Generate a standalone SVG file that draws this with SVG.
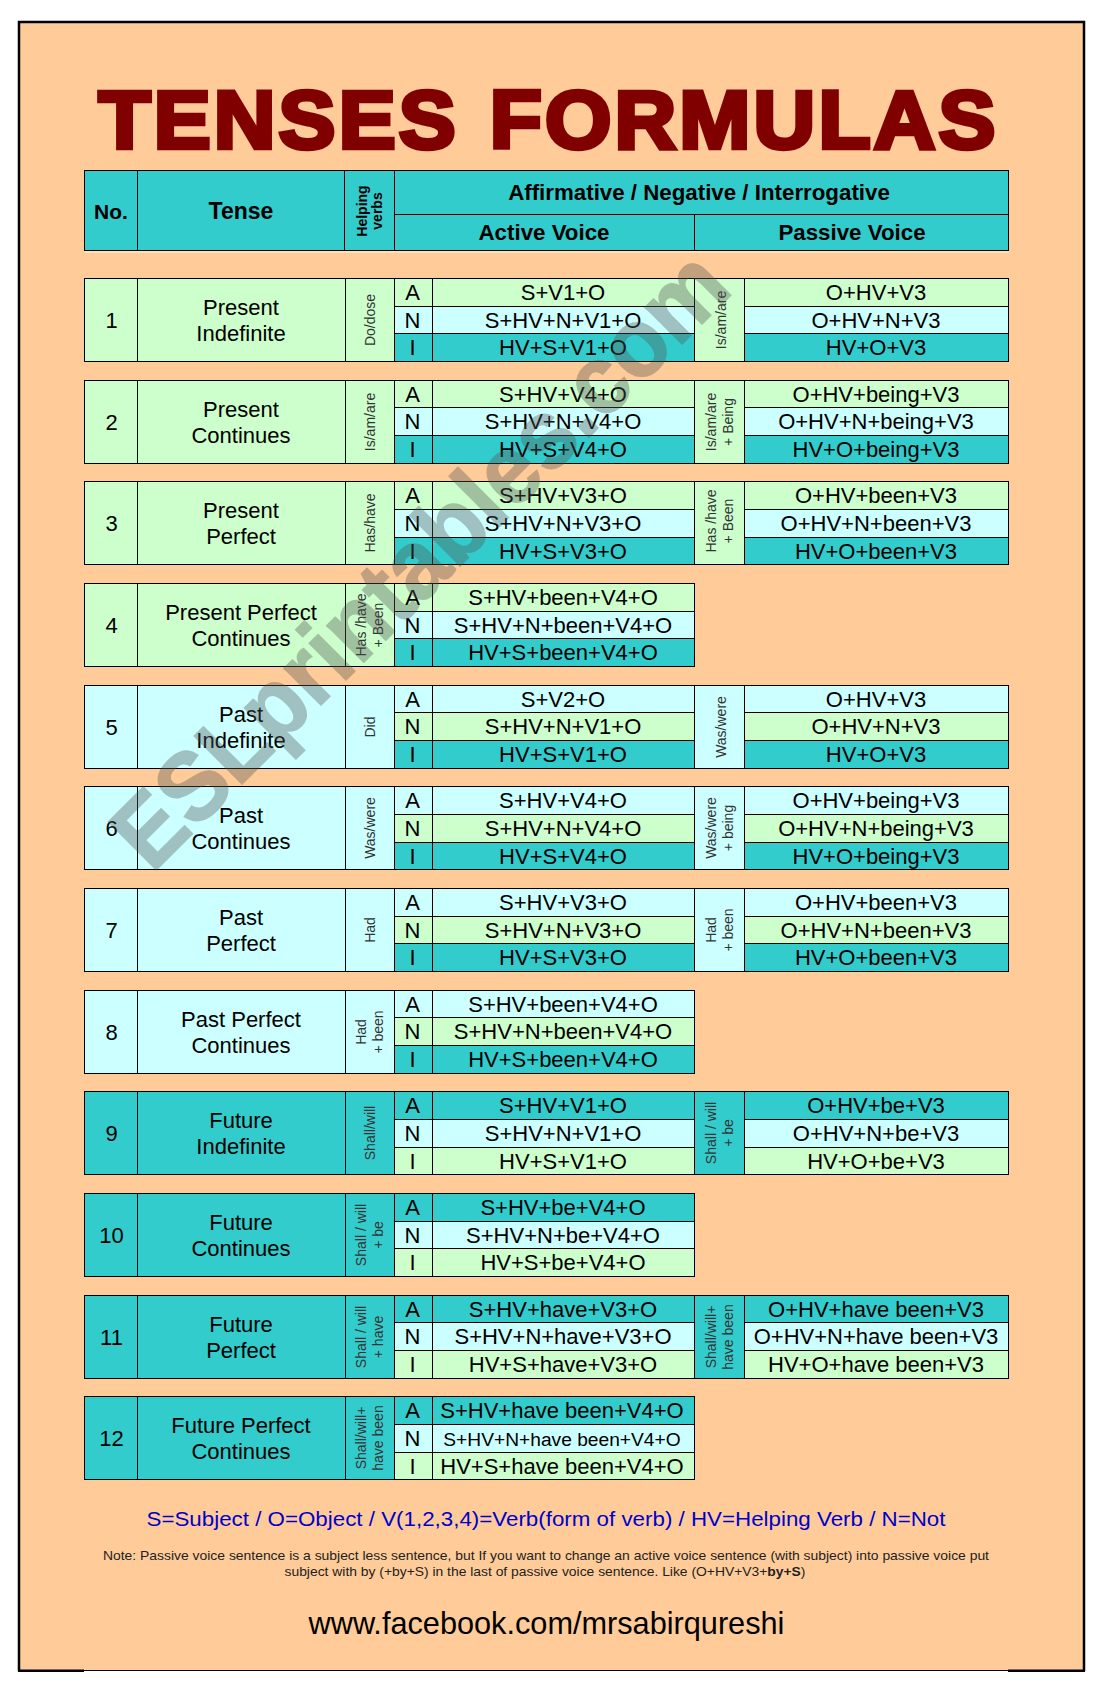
<svg xmlns="http://www.w3.org/2000/svg" width="1098" height="1700" viewBox="0 0 1098 1700">
<defs><style>
text{font-family:"Liberation Sans",Arial,sans-serif;fill:#000;text-anchor:middle}
rect.b{stroke:#000;stroke-width:1}
.g{fill:#CCFFCC}.l{fill:#CCFFFF}.t{fill:#33CCCC}
.f{font-size:22px}.n{font-size:22px}.h{font-size:14px;fill:#333}.hb{font-size:14px;font-weight:bold}.th{font-size:22.300px;font-weight:bold}
.wm{font-size:91px;font-weight:bold;fill:#555;stroke:#555;stroke-width:1.500;opacity:.36;text-anchor:start}
</style></defs>
<rect x="0" y="0" width="1098" height="1700" fill="#fff"/>
<g id="frame">
<rect x="19" y="22" width="1065" height="1648.500" fill="#FFCC99"/>
<path d="M19 1671V22H1084V1671" fill="none" stroke="#000" stroke-width="2.500"/>
<path d="M84 1670.500H1008" stroke="#000" stroke-width="1.200"/>
<path d="M18 1670.700H84M1008 1670.700H1085" stroke="#000" stroke-width="2.500"/>
</g>
<text id="title" x="548.500" y="148" font-size="82" font-weight="bold" letter-spacing="3" word-spacing="4" style="fill:#800000;stroke:#800000;stroke-width:4.500" textLength="900" lengthAdjust="spacingAndGlyphs">TENSES FORMULAS</text>
<g id="header">
<rect class="t b" x="84.500" y="170.500" width="53" height="80"/><rect class="t b" x="137.500" y="170.500" width="207" height="80"/><rect class="t b" x="344.500" y="170.500" width="50" height="80"/><rect class="t b" x="394.500" y="170.500" width="614" height="44"/><rect class="t b" x="394.500" y="214.500" width="300" height="36"/><rect class="t b" x="694.500" y="214.500" width="314" height="36"/>
<path d="M85 252H1009" stroke="#FFE6CC" stroke-width="1.500"/>
<text class="th" x="111" y="218.500" style="font-size:21px">No.</text><text class="th" x="241" y="218.500" style="font-size:23px">Tense</text>
<text class="hb" transform="translate(366.500 211) rotate(-90)">Helping</text><text class="hb" transform="translate(382 211) rotate(-90)">verbs</text>
<text class="th" x="699" y="200">Affirmative / Negative / Interrogative</text><text class="th" x="544" y="240">Active Voice</text><text class="th" x="852" y="240">Passive Voice</text>
</g>

<g id="row1" transform="translate(0 278.500)">
<rect class="g b" x="84.500" width="53" height="83"/><rect class="g b" x="137.500" width="208" height="83"/><rect class="g b" x="345.500" width="49" height="83"/>
<rect class="g b" x="394.500" width="38" height="28"/><rect class="g b" x="432.500" width="262" height="28"/><rect class="l b" x="394.500" y="28" width="38" height="27"/><rect class="l b" x="432.500" y="28" width="262" height="27"/><rect class="t b" x="394.500" y="55" width="38" height="28"/><rect class="t b" x="432.500" y="55" width="262" height="28"/>
<rect class="g b" x="694.500" width="50" height="83"/><rect class="g b" x="744.500" width="264" height="28"/><rect class="l b" x="744.500" y="28" width="264" height="27"/><rect class="t b" x="744.500" y="55" width="264" height="28"/>
<text class="n" x="111.500" y="49.500">1</text><text class="n" x="241" y="36.500">Present</text><text class="n" x="241" y="62.500">Indefinite</text>
<text class="h" transform="translate(374.500 41.500) rotate(-90)">Do/dose</text>
<text class="f" x="412.500" y="21.500">A</text><text class="f" x="563" y="21.500">S+V1+O</text><text class="f" x="412.500" y="49.500">N</text><text class="f" x="563" y="49.500">S+HV+N+V1+O</text><text class="f" x="412.500" y="76.300">I</text><text class="f" x="563" y="76.300">HV+S+V1+O</text>
<text class="h" transform="translate(726 41.500) rotate(-90)">Is/am/are</text>
<text class="f" x="876" y="21.500">O+HV+V3</text><text class="f" x="876" y="49.500">O+HV+N+V3</text><text class="f" x="876" y="76.300">HV+O+V3</text>
</g>

<g id="row2" transform="translate(0 380.500)">
<rect class="g b" x="84.500" width="53" height="83"/><rect class="g b" x="137.500" width="208" height="83"/><rect class="g b" x="345.500" width="49" height="83"/>
<rect class="g b" x="394.500" width="38" height="27"/><rect class="g b" x="432.500" width="262" height="27"/><rect class="l b" x="394.500" y="27" width="38" height="28"/><rect class="l b" x="432.500" y="27" width="262" height="28"/><rect class="t b" x="394.500" y="55" width="38" height="28"/><rect class="t b" x="432.500" y="55" width="262" height="28"/>
<rect class="g b" x="694.500" width="50" height="83"/><rect class="g b" x="744.500" width="264" height="27"/><rect class="l b" x="744.500" y="27" width="264" height="28"/><rect class="t b" x="744.500" y="55" width="264" height="28"/>
<text class="n" x="111.500" y="49.500">2</text><text class="n" x="241" y="36.500">Present</text><text class="n" x="241" y="62.500">Continues</text>
<text class="h" transform="translate(374.500 41.500) rotate(-90)">Is/am/are</text>
<text class="f" x="412.500" y="21.500">A</text><text class="f" x="563" y="21.500">S+HV+V4+O</text><text class="f" x="412.500" y="48.500">N</text><text class="f" x="563" y="48.500">S+HV+N+V4+O</text><text class="f" x="412.500" y="76.300">I</text><text class="f" x="563" y="76.300">HV+S+V4+O</text>
<text class="h" transform="translate(715.500 41.500) rotate(-90)">Is/am/are</text><text class="h" transform="translate(733 41.500) rotate(-90)">+ Being</text>
<text class="f" x="876" y="21.500">O+HV+being+V3</text><text class="f" x="876" y="48.500">O+HV+N+being+V3</text><text class="f" x="876" y="76.300">HV+O+being+V3</text>
</g>

<g id="row3" transform="translate(0 481.500)">
<rect class="g b" x="84.500" width="53" height="83"/><rect class="g b" x="137.500" width="208" height="83"/><rect class="g b" x="345.500" width="49" height="83"/>
<rect class="g b" x="394.500" width="38" height="28"/><rect class="g b" x="432.500" width="262" height="28"/><rect class="l b" x="394.500" y="28" width="38" height="28"/><rect class="l b" x="432.500" y="28" width="262" height="28"/><rect class="t b" x="394.500" y="56" width="38" height="27"/><rect class="t b" x="432.500" y="56" width="262" height="27"/>
<rect class="g b" x="694.500" width="50" height="83"/><rect class="g b" x="744.500" width="264" height="28"/><rect class="l b" x="744.500" y="28" width="264" height="28"/><rect class="t b" x="744.500" y="56" width="264" height="27"/>
<text class="n" x="111.500" y="49.500">3</text><text class="n" x="241" y="36.500">Present</text><text class="n" x="241" y="62.500">Perfect</text>
<text class="h" transform="translate(374.500 41.500) rotate(-90)">Has/have</text>
<text class="f" x="412.500" y="21.500">A</text><text class="f" x="563" y="21.500">S+HV+V3+O</text><text class="f" x="412.500" y="49.500">N</text><text class="f" x="563" y="49.500">S+HV+N+V3+O</text><text class="f" x="412.500" y="77.500">I</text><text class="f" x="563" y="77.500">HV+S+V3+O</text>
<text class="h" transform="translate(715.500 39.500) rotate(-90)">Has /have</text><text class="h" transform="translate(733 39.500) rotate(-90)">+ Been</text>
<text class="f" x="876" y="21.500">O+HV+been+V3</text><text class="f" x="876" y="49.500">O+HV+N+been+V3</text><text class="f" x="876" y="77.500">HV+O+been+V3</text>
</g>

<g id="row4" transform="translate(0 583.500)">
<rect class="g b" x="84.500" width="53" height="83"/><rect class="g b" x="137.500" width="208" height="83"/><rect class="g b" x="345.500" width="49" height="83"/>
<rect class="g b" x="394.500" width="38" height="28"/><rect class="g b" x="432.500" width="262" height="28"/><rect class="l b" x="394.500" y="28" width="38" height="27"/><rect class="l b" x="432.500" y="28" width="262" height="27"/><rect class="t b" x="394.500" y="55" width="38" height="28"/><rect class="t b" x="432.500" y="55" width="262" height="28"/>
<text class="n" x="111.500" y="49.500">4</text><text class="n" x="241" y="36.500">Present Perfect</text><text class="n" x="241" y="62.500">Continues</text>
<text class="h" transform="translate(366 41.500) rotate(-90)">Has /have</text><text class="h" transform="translate(383 41.500) rotate(-90)">+ Been</text>
<text class="f" x="412.500" y="21.500">A</text><text class="f" x="563" y="21.500">S+HV+been+V4+O</text><text class="f" x="412.500" y="49.500">N</text><text class="f" x="563" y="49.500">S+HV+N+been+V4+O</text><text class="f" x="412.500" y="76.300">I</text><text class="f" x="563" y="76.300">HV+S+been+V4+O</text>
</g>

<g id="row5" transform="translate(0 685.500)">
<rect class="l b" x="84.500" width="53" height="83"/><rect class="l b" x="137.500" width="208" height="83"/><rect class="l b" x="345.500" width="49" height="83"/>
<rect class="l b" x="394.500" width="38" height="27"/><rect class="l b" x="432.500" width="262" height="27"/><rect class="g b" x="394.500" y="27" width="38" height="28"/><rect class="g b" x="432.500" y="27" width="262" height="28"/><rect class="t b" x="394.500" y="55" width="38" height="28"/><rect class="t b" x="432.500" y="55" width="262" height="28"/>
<rect class="l b" x="694.500" width="50" height="83"/><rect class="l b" x="744.500" width="264" height="27"/><rect class="g b" x="744.500" y="27" width="264" height="28"/><rect class="t b" x="744.500" y="55" width="264" height="28"/>
<text class="n" x="111.500" y="49.500">5</text><text class="n" x="241" y="36.500">Past</text><text class="n" x="241" y="62">Indefinite</text>
<text class="h" transform="translate(374.500 41.500) rotate(-90)">Did</text>
<text class="f" x="412.500" y="21.500">A</text><text class="f" x="563" y="21.500">S+V2+O</text><text class="f" x="412.500" y="48.500">N</text><text class="f" x="563" y="48.500">S+HV+N+V1+O</text><text class="f" x="412.500" y="76.300">I</text><text class="f" x="563" y="76.300">HV+S+V1+O</text>
<text class="h" transform="translate(726 41.500) rotate(-90)">Was/were</text>
<text class="f" x="876" y="21.500">O+HV+V3</text><text class="f" x="876" y="48.500">O+HV+N+V3</text><text class="f" x="876" y="76.300">HV+O+V3</text>
</g>

<g id="row6" transform="translate(0 786.500)">
<rect class="l b" x="84.500" width="53" height="83"/><rect class="l b" x="137.500" width="208" height="83"/><rect class="l b" x="345.500" width="49" height="83"/>
<rect class="l b" x="394.500" width="38" height="28"/><rect class="l b" x="432.500" width="262" height="28"/><rect class="g b" x="394.500" y="28" width="38" height="28"/><rect class="g b" x="432.500" y="28" width="262" height="28"/><rect class="t b" x="394.500" y="56" width="38" height="27"/><rect class="t b" x="432.500" y="56" width="262" height="27"/>
<rect class="l b" x="694.500" width="50" height="83"/><rect class="l b" x="744.500" width="264" height="28"/><rect class="g b" x="744.500" y="28" width="264" height="28"/><rect class="t b" x="744.500" y="56" width="264" height="27"/>
<text class="n" x="111.500" y="49.500">6</text><text class="n" x="241" y="36.500">Past</text><text class="n" x="241" y="62.500">Continues</text>
<text class="h" transform="translate(374.500 41.500) rotate(-90)">Was/were</text>
<text class="f" x="412.500" y="21.500">A</text><text class="f" x="563" y="21.500">S+HV+V4+O</text><text class="f" x="412.500" y="49.500">N</text><text class="f" x="563" y="49.500">S+HV+N+V4+O</text><text class="f" x="412.500" y="77.500">I</text><text class="f" x="563" y="77.500">HV+S+V4+O</text>
<text class="h" transform="translate(715.500 41.500) rotate(-90)">Was/were</text><text class="h" transform="translate(733 41.500) rotate(-90)">+ being</text>
<text class="f" x="876" y="21.500">O+HV+being+V3</text><text class="f" x="876" y="49.500">O+HV+N+being+V3</text><text class="f" x="876" y="77.500">HV+O+being+V3</text>
</g>

<g id="row7" transform="translate(0 888.500)">
<rect class="l b" x="84.500" width="53" height="83"/><rect class="l b" x="137.500" width="208" height="83"/><rect class="l b" x="345.500" width="49" height="83"/>
<rect class="l b" x="394.500" width="38" height="28"/><rect class="l b" x="432.500" width="262" height="28"/><rect class="g b" x="394.500" y="28" width="38" height="27"/><rect class="g b" x="432.500" y="28" width="262" height="27"/><rect class="t b" x="394.500" y="55" width="38" height="28"/><rect class="t b" x="432.500" y="55" width="262" height="28"/>
<rect class="l b" x="694.500" width="50" height="83"/><rect class="l b" x="744.500" width="264" height="28"/><rect class="g b" x="744.500" y="28" width="264" height="27"/><rect class="t b" x="744.500" y="55" width="264" height="28"/>
<text class="n" x="111.500" y="49.500">7</text><text class="n" x="241" y="36.500">Past</text><text class="n" x="241" y="62.500">Perfect</text>
<text class="h" transform="translate(374.500 41.500) rotate(-90)">Had</text>
<text class="f" x="412.500" y="21.500">A</text><text class="f" x="563" y="21.500">S+HV+V3+O</text><text class="f" x="412.500" y="49.500">N</text><text class="f" x="563" y="49.500">S+HV+N+V3+O</text><text class="f" x="412.500" y="76.300">I</text><text class="f" x="563" y="76.300">HV+S+V3+O</text>
<text class="h" transform="translate(715.500 41.500) rotate(-90)">Had</text><text class="h" transform="translate(733 41.500) rotate(-90)">+ been</text>
<text class="f" x="876" y="21.500">O+HV+been+V3</text><text class="f" x="876" y="49.500">O+HV+N+been+V3</text><text class="f" x="876" y="76.300">HV+O+been+V3</text>
</g>

<g id="row8" transform="translate(0 990.500)">
<rect class="l b" x="84.500" width="53" height="83"/><rect class="l b" x="137.500" width="208" height="83"/><rect class="l b" x="345.500" width="49" height="83"/>
<rect class="l b" x="394.500" width="38" height="27"/><rect class="l b" x="432.500" width="262" height="27"/><rect class="g b" x="394.500" y="27" width="38" height="28"/><rect class="g b" x="432.500" y="27" width="262" height="28"/><rect class="t b" x="394.500" y="55" width="38" height="28"/><rect class="t b" x="432.500" y="55" width="262" height="28"/>
<text class="n" x="111.500" y="49.500">8</text><text class="n" x="241" y="36">Past Perfect</text><text class="n" x="241" y="62">Continues</text>
<text class="h" transform="translate(366 41.500) rotate(-90)">Had</text><text class="h" transform="translate(383 41.500) rotate(-90)">+ been</text>
<text class="f" x="412.500" y="21.500">A</text><text class="f" x="563" y="21.500">S+HV+been+V4+O</text><text class="f" x="412.500" y="48.500">N</text><text class="f" x="563" y="48.500">S+HV+N+been+V4+O</text><text class="f" x="412.500" y="76.300">I</text><text class="f" x="563" y="76.300">HV+S+been+V4+O</text>
</g>

<g id="row9" transform="translate(0 1091.500)">
<rect class="t b" x="84.500" width="53" height="83"/><rect class="t b" x="137.500" width="208" height="83"/><rect class="t b" x="345.500" width="49" height="83"/>
<rect class="t b" x="394.500" width="38" height="28"/><rect class="t b" x="432.500" width="262" height="28"/><rect class="l b" x="394.500" y="28" width="38" height="28"/><rect class="l b" x="432.500" y="28" width="262" height="28"/><rect class="g b" x="394.500" y="56" width="38" height="27"/><rect class="g b" x="432.500" y="56" width="262" height="27"/>
<rect class="t b" x="694.500" width="50" height="83"/><rect class="t b" x="744.500" width="264" height="28"/><rect class="l b" x="744.500" y="28" width="264" height="28"/><rect class="g b" x="744.500" y="56" width="264" height="27"/>
<text class="n" x="111.500" y="49.500">9</text><text class="n" x="241" y="36.500">Future</text><text class="n" x="241" y="62.500">Indefinite</text>
<text class="h" transform="translate(374.500 41.500) rotate(-90)">Shall/will</text>
<text class="f" x="412.500" y="21.500">A</text><text class="f" x="563" y="21.500">S+HV+V1+O</text><text class="f" x="412.500" y="49.500">N</text><text class="f" x="563" y="49.500">S+HV+N+V1+O</text><text class="f" x="412.500" y="77.500">I</text><text class="f" x="563" y="77.500">HV+S+V1+O</text>
<text class="h" transform="translate(716 41.500) rotate(-90)">Shall / will</text><text class="h" transform="translate(733 41.500) rotate(-90)">+ be</text>
<text class="f" x="876" y="21.500">O+HV+be+V3</text><text class="f" x="876" y="49.500">O+HV+N+be+V3</text><text class="f" x="876" y="77.500">HV+O+be+V3</text>
</g>

<g id="row10" transform="translate(0 1193.500)">
<rect class="t b" x="84.500" width="53" height="83"/><rect class="t b" x="137.500" width="208" height="83"/><rect class="t b" x="345.500" width="49" height="83"/>
<rect class="t b" x="394.500" width="38" height="28"/><rect class="t b" x="432.500" width="262" height="28"/><rect class="l b" x="394.500" y="28" width="38" height="27"/><rect class="l b" x="432.500" y="28" width="262" height="27"/><rect class="g b" x="394.500" y="55" width="38" height="28"/><rect class="g b" x="432.500" y="55" width="262" height="28"/>
<text class="n" x="111.500" y="49.500">10</text><text class="n" x="241" y="36.500">Future</text><text class="n" x="241" y="62.500">Continues</text>
<text class="h" transform="translate(366 41.500) rotate(-90)">Shall / will</text><text class="h" transform="translate(383 41.500) rotate(-90)">+ be</text>
<text class="f" x="412.500" y="21.500">A</text><text class="f" x="563" y="21.500">S+HV+be+V4+O</text><text class="f" x="412.500" y="49.500">N</text><text class="f" x="563" y="49.500">S+HV+N+be+V4+O</text><text class="f" x="412.500" y="76.300">I</text><text class="f" x="563" y="76.300">HV+S+be+V4+O</text>
</g>

<g id="row11" transform="translate(0 1295.500)">
<rect class="t b" x="84.500" width="53" height="83"/><rect class="t b" x="137.500" width="208" height="83"/><rect class="t b" x="345.500" width="49" height="83"/>
<rect class="t b" x="394.500" width="38" height="27"/><rect class="t b" x="432.500" width="262" height="27"/><rect class="l b" x="394.500" y="27" width="38" height="28"/><rect class="l b" x="432.500" y="27" width="262" height="28"/><rect class="g b" x="394.500" y="55" width="38" height="28"/><rect class="g b" x="432.500" y="55" width="262" height="28"/>
<rect class="t b" x="694.500" width="50" height="83"/><rect class="t b" x="744.500" width="264" height="27"/><rect class="l b" x="744.500" y="27" width="264" height="28"/><rect class="g b" x="744.500" y="55" width="264" height="28"/>
<text class="n" x="111.500" y="49.500">11</text><text class="n" x="241" y="36.500">Future</text><text class="n" x="241" y="62.500">Perfect</text>
<text class="h" transform="translate(366 41.500) rotate(-90)">Shall / will</text><text class="h" transform="translate(383 41.500) rotate(-90)">+ have</text>
<text class="f" x="412.500" y="21.500">A</text><text class="f" x="563" y="21.500">S+HV+have+V3+O</text><text class="f" x="412.500" y="48.500">N</text><text class="f" x="563" y="48.500">S+HV+N+have+V3+O</text><text class="f" x="412.500" y="76">I</text><text class="f" x="563" y="76">HV+S+have+V3+O</text>
<text class="h" transform="translate(716 41.500) rotate(-90)">Shall/will+</text><text class="h" transform="translate(733 41.500) rotate(-90)">have been</text>
<text class="f" x="876" y="21.500">O+HV+have been+V3</text><text class="f" x="876" y="48.500">O+HV+N+have been+V3</text><text class="f" x="876" y="76">HV+O+have been+V3</text>
</g>

<g id="row12" transform="translate(0 1396.500)">
<rect class="t b" x="84.500" width="53" height="83"/><rect class="t b" x="137.500" width="208" height="83"/><rect class="t b" x="345.500" width="49" height="83"/>
<rect class="t b" x="394.500" width="38" height="28"/><rect class="t b" x="432.500" width="262" height="28"/><rect class="l b" x="394.500" y="28" width="38" height="28"/><rect class="l b" x="432.500" y="28" width="262" height="28"/><rect class="g b" x="394.500" y="56" width="38" height="27"/><rect class="g b" x="432.500" y="56" width="262" height="27"/>
<text class="n" x="111.500" y="49.500">12</text><text class="n" x="241" y="36.500">Future Perfect</text><text class="n" x="241" y="62.500">Continues</text>
<text class="h" transform="translate(366 41.500) rotate(-90)">Shall/will+</text><text class="h" transform="translate(383 41.500) rotate(-90)">have been</text>
<text class="f" x="412.500" y="21.500">A</text><text class="f" x="562" y="21">S+HV+have been+V4+O</text><text class="f" x="412.500" y="49.500">N</text><text class="f" x="562" y="49.500" style="font-size:19.200px">S+HV+N+have been+V4+O</text><text class="f" x="412.500" y="77.500">I</text><text class="f" x="562" y="77.500">HV+S+have been+V4+O</text>
</g>

<g id="legend">
<text x="546" y="1526" font-size="21" style="fill:#0000CC" textLength="799" lengthAdjust="spacingAndGlyphs">S=Subject / O=Object / V(1,2,3,4)=Verb(form of verb) / HV=Helping Verb / N=Not</text>
<text x="546" y="1559.500" font-size="13" style="fill:#222" textLength="886" lengthAdjust="spacingAndGlyphs">Note: Passive voice sentence is a subject less sentence, but If you want to change an active voice sentence (with subject) into passive voice put</text>
<text x="545" y="1575.500" font-size="13" style="fill:#222" textLength="521" lengthAdjust="spacingAndGlyphs">subject with by (+by+S) in the last of passive voice sentence. Like (O+HV+V3+<tspan font-weight="bold">by+S</tspan>)</text>
<text x="546.500" y="1634" font-size="30.700">www.facebook.com/mrsabirqureshi</text>
</g>
<g id="watermark"><text class="wm" transform="translate(152 874) rotate(-45) scale(1 1.08)">ESLprintables.com</text></g>
</svg>
